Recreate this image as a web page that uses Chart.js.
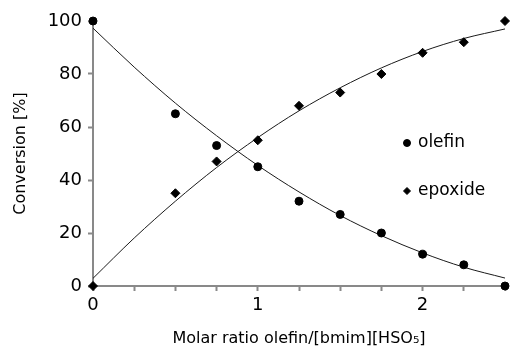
<!DOCTYPE html>
<html>
<head>
<meta charset="utf-8">
<script src="https://cdn.jsdelivr.net/npm/chart.js@4/dist/chart.umd.min.js"></script>
<style>
  html, body { margin: 0; padding: 0; background: #fff; }
  #wrap { width: 511px; height: 355px; }
</style>
</head>
<body>
<div id="wrap"><canvas id="conv-chart" width="511" height="355"></canvas></div>
<script>
// 莫耳比 (x)
const ratios = [0, 0.5, 0.75, 1, 1.25, 1.5, 1.75, 2, 2.25, 2.5];
const olefin = [100, 65, 53, 45, 32, 27, 20, 12, 8, 0];
const epoxide = [0, 35, 47, 55, 68, 73, 80, 88, 92, 100];

// trendline
const trendX = [0, 0.25, 0.5, 0.75, 1, 1.25, 1.5, 1.75, 2, 2.25, 2.5];
const olefinTrend = [97.3, 82.6, 69.0, 56.7, 45.5, 35.5, 26.6, 19.0, 12.5, 7.1, 3.0];
const epoxideTrend = [2.9, 18.1, 32.0, 44.7, 56.0, 66.1, 74.8, 82.3, 88.5, 93.4, 97.0];

const yTicks = [0, 20, 40, 60, 80, 100];
const xLabels = [0, 1, 2];

const FONT = "DejaVu Sans";
const axisGrey = "#898989";

const toXY = (xs, ys) => xs.map((x, i) => ({ x: x, y: ys[i] }));

// legend inside the plot
const innerLegend = {
  id: "innerLegend",
  afterDraw(chart) {
    const ctx = chart.ctx;
    const items = [
      { text: "olefin", style: "circle", r: 3.5, x: 407, y: 143 },
      { text: "epoxide", style: "rectRot", r: 3.5, x: 407, y: 191 },
    ];
    ctx.save();
    ctx.font = "17px '" + FONT + "'";
    ctx.textBaseline = "middle";
    items.forEach((it) => {
      ctx.fillStyle = "#000";
      ctx.strokeStyle = "#000";
      Chart.helpers.drawPoint(ctx, { pointStyle: it.style, radius: it.r, rotation: 0, borderWidth: 1 }, it.x, it.y);
      ctx.fillStyle = "#000";
      ctx.fillText(it.text, it.x + 11, it.y);
    });
    ctx.restore();
  },
};

new Chart(document.getElementById("conv-chart"), {
  type: "scatter",
  data: {
    datasets: [
      {
        label: "olefin",
        data: toXY(ratios, olefin),
        pointStyle: "circle",
        pointRadius: 4,
        backgroundColor: "#000",
        borderColor: "#000",
        showLine: false,
      },
      {
        label: "epoxide",
        data: toXY(ratios, epoxide),
        pointStyle: "rectRot",
        pointRadius: 4.5,
        backgroundColor: "#000",
        borderColor: "#000",
        showLine: false,
      },
      {
        label: "",
        data: toXY(trendX, olefinTrend),
        showLine: true,
        pointRadius: 0,
        borderColor: "#1a1a1a",
        borderWidth: 1,
        cubicInterpolationMode: "monotone",
      },
      {
        label: "",
        data: toXY(trendX, epoxideTrend),
        showLine: true,
        pointRadius: 0,
        borderColor: "#1a1a1a",
        borderWidth: 1,
        cubicInterpolationMode: "monotone",
      },
    ],
  },
  options: {
    responsive: false,
    animation: false,
    layout: { padding: { left: 0, right: 6, top: 21, bottom: 0 } },
    plugins: {
      legend: { display: false },
      tooltip: { enabled: false },
    },
    elements: { point: { hitRadius: 0 } },
    clip: false,
    scales: {
      x: {
        type: "linear",
        min: 0,
        max: 2.5,
        afterFit: (s) => { s.height = 69; },
        border: { color: axisGrey, width: 2 },
        grid: { drawOnChartArea: false, drawTicks: true, tickLength: 5, tickColor: axisGrey, tickWidth: 2 },
        ticks: {
          stepSize: 0.25,
          autoSkip: false,
          maxRotation: 0,
          padding: 4,
          color: "#000",
          font: { family: FONT, size: 18 },
          callback: (v) => (xLabels.includes(v) ? String(v) : ""),
        },
        title: {
          display: true,
          text: "Molar ratio olefin/[bmim][HSO₅]",
          color: "#000",
          font: { family: FONT, size: 16 },
          padding: { top: 0, bottom: 7 },
        },
      },
      y: {
        min: 0,
        max: 100,
        afterFit: (s) => { s.width = 93; },
        afterBuildTicks: (s) => { s.ticks = yTicks.map((v) => ({ value: v })); },
        border: { color: axisGrey, width: 2 },
        grid: { drawOnChartArea: false, drawTicks: true, tickLength: 5, tickColor: axisGrey, tickWidth: 2 },
        ticks: {
          padding: 6,
          color: "#000",
          font: { family: FONT, size: 18 },
        },
        title: {
          display: true,
          text: "Conversion [%]",
          color: "#000",
          font: { family: FONT, size: 16 },
          padding: { top: 11, bottom: 0 },
        },
      },
    },
  },
  plugins: [innerLegend],
});
</script>
</body>
</html>
